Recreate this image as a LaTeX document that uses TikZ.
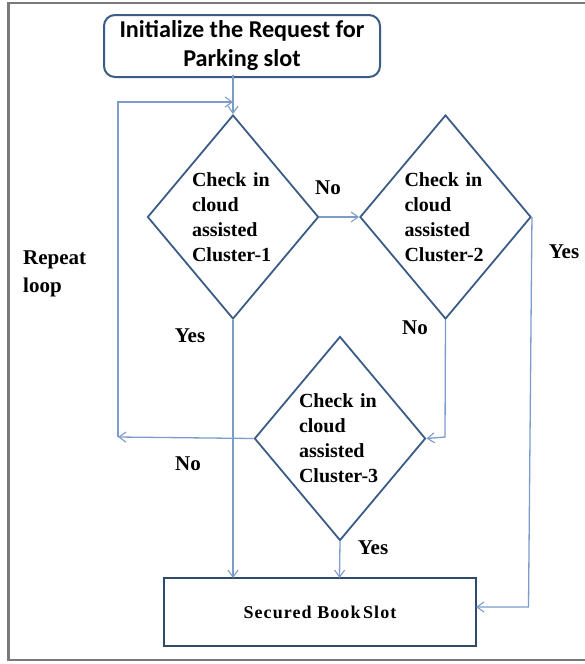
\documentclass[tikz,border=0pt]{standalone}
\usepackage{fontspec}
\setmainfont{Liberation Serif}
\newfontfamily\boxfont{Carlito}
\newfontfamily\secfont[LetterSpace=6]{Liberation Serif}
\usetikzlibrary{shapes.geometric,arrows.meta}
\definecolor{frame}{HTML}{7A7A7A}
\definecolor{darkb}{HTML}{3B5C86}
\definecolor{lightb}{HTML}{7C9CCB}
\definecolor{secb}{HTML}{2E4A6A}
\tikzset{
  decision/.style={diamond, draw=darkb, line width=1.8pt, inner sep=0pt,
    minimum width=167pt, minimum height=204pt, font=\fontsize{20}{25}\selectfont\bfseries,
    align=left, text width=82pt},
  startbox/.style={draw=darkb, line width=2pt, rounded corners=11pt,
    minimum width=276pt, minimum height=62pt, inner sep=0pt,
    font=\boxfont\fontsize{24.2}{29}\selectfont\bfseries, align=center},
  endbox/.style={draw=secb, line width=2pt, minimum width=312pt, minimum height=68pt,
    inner sep=0pt, font=\secfont\fontsize{18}{20}\selectfont\bfseries},
  arr/.style={draw=lightb, line width=1.3pt, -{Straight Barb[length=7pt,width=10pt,line width=1.1pt]}},
  lbl/.style={font=\fontsize{21}{28}\selectfont\bfseries, inner sep=0pt, align=left}
}
\begin{document}
\begin{tikzpicture}[x=1pt,y=-1pt]
\useasboundingbox (0,0) rectangle (584,664);
\draw[frame, line width=2.5pt] (590,3) -- (8.5,3) -- (8.5,660) -- (590,660);

\node[startbox] (start) at (242,46) {\raisebox{-2pt}{Initialize the Request for}\\\raisebox{-2pt}{Parking slot}};
\node[decision] (d1) at (233,217) {Check in\\cloud\\assisted\\Cluster-1};
\node[decision] (d2) at (445.5,217) {Check in\\cloud\\assisted\\Cluster-2};
\node[decision] (d3) at (340,438.5) {Check in\\cloud\\assisted\\Cluster-3};
\node[endbox] (end) at (320,612) {Secured Book\hspace{-3pt} Slot};

\coordinate (sTop) at (233,75);
\coordinate (loopB) at (118,437);
\coordinate (loopT) at (118,102);
\coordinate (loopE) at (233,102);
\coordinate (r2) at (528.5,607);
\coordinate (r2e) at (476,607);
\coordinate (m2) at (445,437);
\coordinate (e1) at (233,578);
\coordinate (e3) at (339.5,578);

\draw[arr] (sTop) -- (d1.north);
\draw[arr] (loopB) -- (loopT) -- (loopE);
\draw[arr] (d3.west) -- (loopB);
\draw[arr] (d1.east) -- (d2.west);
\draw[arr] (d2.east) -- (r2) -- (r2e);
\draw[arr] (d2.south) -- (m2) -- (d3.east);
\draw[arr] (d3.south) -- (e3);
\draw[arr] (d1.south) -- (e1);

\node[lbl] (no1) at (328,188) {No};
\node[lbl] (yes1) at (190,336) {Yes};
\node[lbl] (no2) at (415,328) {No};
\node[lbl] (yes2) at (564,252) {Yes};
\node[lbl] (no3) at (188,464) {No};
\node[lbl] (yes3) at (373,548) {Yes};
\node[lbl, anchor=west] (rep) at (23,274) {Repeat\\loop};
\end{tikzpicture}
\end{document}
